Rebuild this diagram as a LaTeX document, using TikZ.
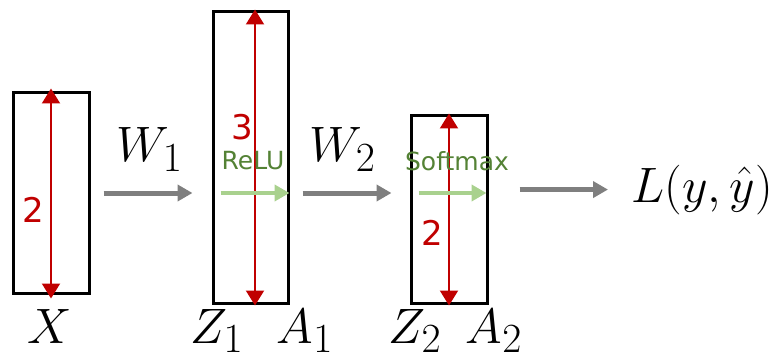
\documentclass[tikz,border=0pt]{standalone}
\usepackage{amsmath}
\usepackage{fontspec}
\usepackage{tikz}
\usetikzlibrary{arrows.meta,positioning,calc}
\newfontfamily\dimfont{DejaVu Sans}
\DeclareMathSizes{23}{23}{21}{16}
\definecolor{DimRed}{HTML}{C00000}
\definecolor{ActGreen}{HTML}{548235}
\definecolor{ActLight}{HTML}{A9D18E}
\definecolor{FlowGray}{HTML}{7F7F7F}

\begin{document}
\begin{tikzpicture}[x=0.5pt, y=-0.5pt]

%% ── helpers ───────────────────────────────────────────────
\tikzset{
  layerbox/.style={rectangle,draw=black,line width=1.5pt,inner sep=0pt,
                   minimum width=38pt,minimum height=#1},
  dimarr/.style={{Triangle[length=7.5pt,width=9pt]}-{Triangle[length=7.5pt,width=9pt]},
                 DimRed,line width=1pt},
  dimlbl/.style={font=\dimfont\fontsize{17}{20}\selectfont,DimRed,inner sep=0pt},
  actarr/.style={-{Triangle[length=7.5pt,width=8pt]},ActLight,line width=2pt},
  actlbl/.style={font=\dimfont\fontsize{12.5}{15}\selectfont,ActGreen,inner sep=0pt},
  flow/.style={-{Triangle[length=7.5pt,width=8pt]},FlowGray,line width=2.5pt},
  var/.style={font=\fontsize{23}{27}\selectfont,inner sep=0pt,anchor=base},
}

\useasboundingbox (0,0) rectangle (771,358);

%% ── layer boxes ──────────────────────────────────────────
\node[layerbox=100pt]                      (xbox)    at (51,193)    {};
\node[layerbox=145.5pt,minimum width=37.5pt] (zonebox) at (250.5,157.5) {};
\node[layerbox=93.5pt]                     (ztwobox) at (449,209.5)  {};

\coordinate (flowy) at (0,193);

%% ── sizes (red) ──
\draw[dimarr] ([yshift=1.5pt]xbox.north) -- ([yshift=-2pt]xbox.south);
\draw[dimarr] ([xshift=2.25pt,yshift=0.5pt]zonebox.north) -- ([xshift=2.25pt,yshift=-0.5pt]zonebox.south);
\draw[dimarr] ([yshift=0.5pt]ztwobox.north) -- ([yshift=-0.5pt]ztwobox.south);

\node[dimlbl] (xdim)    at (33,210)  {2};
\node[dimlbl] (zonedim) at (242,127) {3};
\node[dimlbl] (ztwodim) at (432,233) {2};

%% ── activations (green) ──
\draw[actarr] ($(zonebox.west |- flowy)+(9,0)$) -- (zonebox.east |- flowy);
\draw[actarr] ($(ztwobox.west |- flowy)+(9,0)$) -- ($(ztwobox.east |- flowy)+(-2,0)$);
\node[actlbl] (relu) at (253,161) {ReLU};
\node[actlbl] (smax) at (457,161) {Softmax};

%% ── loss ──
\node[var,anchor=base west] (loss) at (631,202) {$L(y,\hat{y})$};

%% ── flow between layers (gray) ──
\draw[flow] ($(xbox.east)+(13,0)$) -- ($(zonebox.west |- xbox.east)+(-19,0)$);
\draw[flow] ($(zonebox.east |- flowy)+(13,0)$) -- ($(ztwobox.west |- flowy)+(-18,0)$);
\draw[flow] ($(ztwobox.east |- loss.west)+(31,0)$) -- ($(loss.west)+(-23,0)$);

%% ── weights and names ──
\node[var] (wone) at (150,162) {$W_1$};
\node[var] (wtwo) at (343,162) {$W_2$};

\node[var] (xname)   at (50,343)  {$X$};
\node[var] (zone)    at (217,343) {$Z_1$};
\node[var] (aone)    at (305,343) {$A_1$};
\node[var] (ztwo)    at (415,343) {$Z_2$};
\node[var] (atwo)    at (494,343) {$A_2$};

\end{tikzpicture}
\end{document}
